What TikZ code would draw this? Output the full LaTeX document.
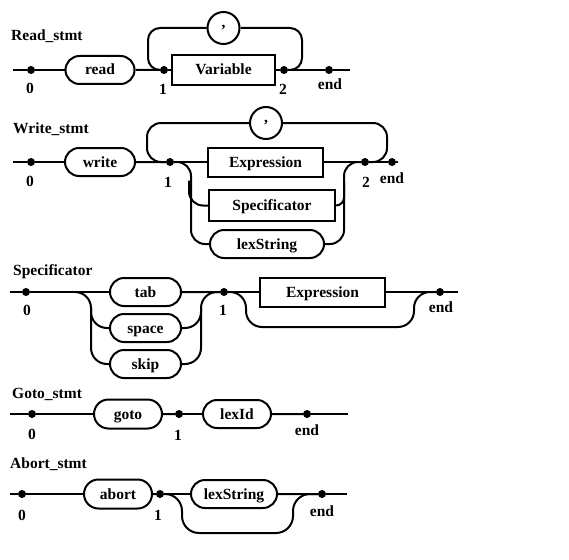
\documentclass[tikz,border=0pt]{standalone}
\usepackage{fontspec}
\setmainfont{Liberation Serif}
\usetikzlibrary{shapes.misc, calc, positioning}

\begin{document}
\begin{tikzpicture}[x=1pt, y=-1pt, font=\fontsize{15.5}{18}\selectfont\bfseries,
    rail/.style={line width=2pt, line join=round},
    dot/.style={circle, fill, inner sep=0pt, minimum size=8pt},
    term/.style={rounded rectangle, draw, line width=2pt, inner sep=2pt, minimum height=28pt,
      text height=10pt, text depth=0pt},
    nonterm/.style={rectangle, draw, line width=2pt, inner sep=2pt, minimum height=30pt,
      text height=10pt, text depth=0pt},
    sep/.style={circle, draw, line width=2pt, inner sep=0pt, minimum size=32pt},
    lab/.style={anchor=base, inner sep=0pt},
    title/.style={anchor=base west, inner sep=0pt}]

    \useasboundingbox (0,0) rectangle (569,559);

    % Read_stmt
    \node (rtitle) [title] at (11,41) {Read\_stmt};
    \node (r0) [dot] at (31,70) {};
    \node (rread) [term, minimum width=73pt] at (100,70) {read};
    \node (r1) [dot] at (164,70) {};
    \node (rvar) [nonterm, minimum width=103pt] at (223.5,70) {Variable};
    \node (r2) [dot] at (284,70) {};
    \node (rend) [dot] at (329,70) {};
    \node (rcomma) [sep] at (223.5,28) {,};
    \node (rl0) [lab] at (30,93) {0};
    \node (rl1) [lab] at (163,95) {1};
    \node (rl2) [lab] at (283,95) {2};
    \node (rlend) [lab] at (330,90) {end};

    \draw [rail] (r0) -- ++(-18,0);
    \foreach \i/\j in {r0/rread, rread/r1, r1/rvar, rvar/r2, r2/rend} {
      \draw [rail] (\i) -- (\j);
    }
    \draw [rail] (rend) -- ++(21,0);
    \draw [rail, rounded corners=12pt] (r1) -- ($(r1)+(-16,0)$) |- (rcomma);
    \draw [rail, rounded corners=12pt] (rcomma) -| ($(r2)+(18,0)$) -- (r2);

    % Write_stmt
    \node (wtitle) [title] at (13,133) {Write\_stmt};
    \node (w0) [dot] at (31,162) {};
    \node (wwrite) [term, minimum width=74pt] at (100,162) {write};
    \node (w1) [dot] at (170,162) {};
    \node (wexpr) [nonterm, minimum width=115pt, minimum height=29pt] at (265.5,162) {Expression};
    \node (wspec) [nonterm, minimum width=126pt, minimum height=31pt] at (272,205.5) {Specificator};
    \node (wstr) [term, minimum width=118pt] at (267,244) {lexString};
    \node (w2) [dot] at (365,162) {};
    \node (wend) [dot] at (392,162) {};
    \node (wcomma) [sep] at (266,123) {,};
    \node (wl0) [lab] at (30,186) {0};
    \node (wl1) [lab] at (168,187) {1};
    \node (wl2) [lab] at (366,187) {2};
    \node (wlend) [lab] at (392,183) {end};

    \draw [rail] (w0) -- ++(-18,0);
    \foreach \i/\j in {w0/wwrite, wwrite/w1, w1/wexpr, wexpr/w2, w2/wend} {
      \draw [rail] (\i) -- (\j);
    }
    \draw [rail] (wend) -- ++(6,0);
    \draw [rail, rounded corners=14pt] (w1) -- ($(w1)+(-23,0)$) |- (wcomma);
    \draw [rail, rounded corners=14pt] (wcomma) -| ($(w2)+(22,0)$) -- (w2);
    \draw [rail, rounded corners=14pt] (w1) -| ($(wstr.west)+(-18,0)$) -- (wstr);
    \draw [rail, rounded corners=14pt] ($(wspec.west)+(-19,-25)$) |- (wspec);
    \draw [rail, rounded corners=14pt] (wstr) -| ($(w2)+(-21,0)$) -- (w2);
    \draw [rail, rounded corners=8pt] (wspec) -| ($(w2)+(-21,20)$);

    % Specificator
    \node (stitle) [title] at (13,275) {Specificator};
    \node (s0) [dot] at (26,292) {};
    \node (stab) [term, minimum width=75pt] at (145.5,292) {tab};
    \node (sspace) [term, minimum width=75pt, below=6pt of stab] {space};
    \node (sskip) [term, minimum width=75pt, below=6pt of sspace] {skip};
    \node (s1) [dot] at (224,292) {};
    \node (sexpr) [nonterm, minimum width=125pt, minimum height=29pt] at (322.5,292) {Expression};
    \node (send) [dot] at (440,292) {};
    \node (sl0) [lab] at (27,315) {0};
    \node (sl1) [lab] at (223,315) {1};
    \node (slend) [lab] at (441,312) {end};

    \draw [rail] (s0) -- ++(-16,0);
    \foreach \i/\j in {s0/stab, stab/s1, s1/sexpr, sexpr/send} {
      \draw [rail] (\i) -- (\j);
    }
    \draw [rail] (send) -- ++(18,0);
    \draw [rail, rounded corners=16pt] ($(stab.west)+(-34,0)$) -| ($(sskip.west)+(-18,0)$) -- (sskip);
    \draw [rail, rounded corners=16pt] ($(sspace.west)+(-18,-20)$) |- (sspace);
    \draw [rail, rounded corners=16pt] (sskip) -| ($(s1)+(-23,0)$) -- (s1);
    \draw [rail, rounded corners=16pt] (sspace) -| ($(s1)+(-23,16)$);
    \draw [rail, rounded corners=16pt] (s1) -| ($(s1)+(22,35)$) -| ($(send)+(-26,0)$) -- (send);

    % Goto_stmt
    \node (gtitle) [title] at (12,398) {Goto\_stmt};
    \node (g0) [dot] at (32,414) {};
    \node (ggoto) [term, minimum width=72pt, minimum height=29pt] at (128,414) {goto};
    \node (g1) [dot] at (179,414) {};
    \node (gid) [term, minimum width=72pt] at (237,414) {lexId};
    \node (gend) [dot] at (307,414) {};
    \node (gl0) [lab] at (32,439) {0};
    \node (gl1) [lab] at (178,440) {1};
    \node (glend) [lab] at (307,435) {end};

    \draw [rail] (g0) -- ++(-22,0);
    \foreach \i/\j in {g0/ggoto, ggoto/g1, g1/gid, gid/gend} {
      \draw [rail] (\i) -- (\j);
    }
    \draw [rail] (gend) -- ++(41,0);

    % Abort_stmt
    \node (atitle) [title] at (10,468) {Abort\_stmt};
    \node (a0) [dot] at (22,494) {};
    \node (aabort) [term, minimum width=72pt, minimum height=29pt] at (118,494) {abort};
    \node (a1) [dot] at (160,494) {};
    \node (astr) [term, minimum width=90pt] at (234,494) {lexString};
    \node (aend) [dot] at (322,494) {};
    \node (al0) [lab] at (22,520) {0};
    \node (al1) [lab] at (158,520) {1};
    \node (alend) [lab] at (322,516) {end};

    \draw [rail] (a0) -- ++(-12,0);
    \foreach \i/\j in {a0/aabort, aabort/a1, a1/astr, astr/aend} {
      \draw [rail] (\i) -- (\j);
    }
    \draw [rail] (aend) -- ++(25,0);
    \draw [rail, rounded corners=17pt] (a1) -| ($(a1)+(22,39)$) -| ($(aend)+(-29,0)$) -- (aend);
\end{tikzpicture}
\end{document}
